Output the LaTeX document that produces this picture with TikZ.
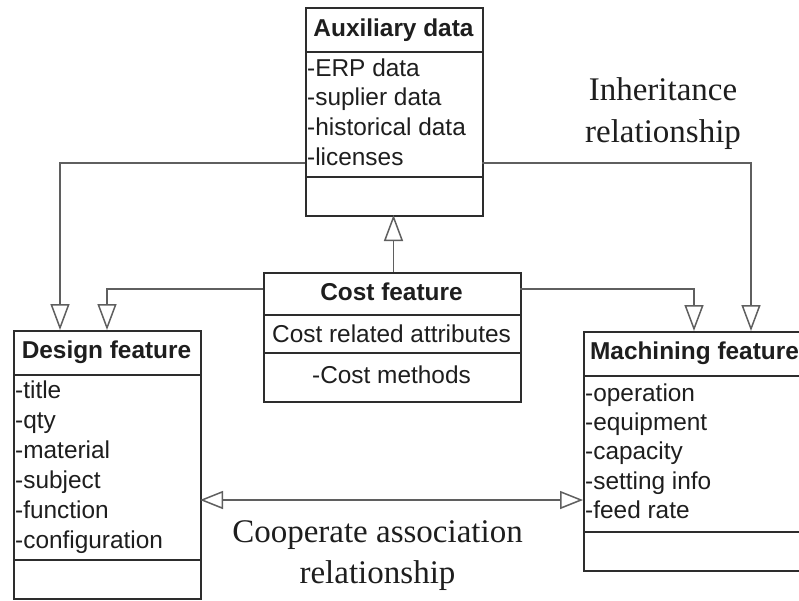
\documentclass[tikz,border=0pt]{standalone}
\usepackage{fontspec}
\setmainfont{Liberation Sans}
\newfontfamily\serifrm{Liberation Serif}
\usetikzlibrary{arrows.meta}
\definecolor{boxc}{RGB}{45,45,45}
\definecolor{linec}{RGB}{95,95,95}
\definecolor{txtc}{RGB}{30,30,30}
\begin{document}
\begin{tikzpicture}[x=1pt,y=-1pt,
  box/.style={draw=boxc, line width=1.5pt, fill=white, inner sep=0pt, anchor=north west},
  divider/.style={draw=boxc, line width=1.5pt},
  hdr/.style={inner sep=0pt, anchor=base, text=txtc, font=\fontsize{24.4}{29}\selectfont\bfseries},
  attr/.style={inner sep=0pt, anchor=base west, text=txtc, font=\fontsize{24.4}{29}\selectfont},
  attrc/.style={inner sep=0pt, anchor=base, text=txtc, font=\fontsize{24.4}{29}\selectfont},
  lbl/.style={inner sep=0pt, anchor=base, text=txtc, font=\serifrm\fontsize{33}{41}\selectfont},
  inh/.style={draw=linec, line width=1.5pt, -{Triangle[open, length=26pt, width=19pt]}},
  assoc/.style={draw=linec, line width=1.5pt, {Triangle[open, length=23pt, width=18pt]}-{Triangle[open, length=23pt, width=18pt]}}
]
\useasboundingbox (0,0) rectangle (799,600);
\clip (0,0) rectangle (799,600);
\fill[white] (0,0) rectangle (799,600);

% Auxiliary data
\node[box, minimum width=177pt, minimum height=208pt] (aux) at (305,7) {};
\draw[divider] (305,52) -- (482,52);
\draw[divider] (305,177) -- (482,177);
\node[hdr] (auxh) at (393.5,36) {Auxiliary data};
\node[attr] (aux1) at (307,76) {-ERP data};
\node[attr] (aux2) at (307,105) {-suplier data};
\node[attr] (aux3) at (307,135) {-historical data};
\node[attr] (aux4) at (307,165) {-licenses};

% Design feature
\node[box, minimum width=187pt, minimum height=268pt] (design) at (13,330) {};
\draw[divider] (13,375) -- (200,375);
\draw[divider] (13,560) -- (200,560);
\node[hdr] (desh) at (106.5,358) {Design feature};
\node[attr] (des1) at (15,398) {-title};
\node[attr] (des2) at (15,428) {-qty};
\node[attr] (des3) at (15,458) {-material};
\node[attr] (des4) at (15,488) {-subject};
\node[attr] (des5) at (15,518) {-function};
\node[attr] (des6) at (15,548) {-configuration};

% Machining feature
\node[box, minimum width=223pt, minimum height=239pt] (mach) at (583,331) {};
\draw[divider] (583,376) -- (806,376);
\draw[divider] (583,532) -- (806,532);
\node[hdr] (machh) at (694.5,359) {Machining feature};
\node[attr] (mac1) at (585,401) {-operation};
\node[attr] (mac2) at (585,430) {-equipment};
\node[attr] (mac3) at (585,459) {-capacity};
\node[attr] (mac4) at (585,489) {-setting info};
\node[attr] (mac5) at (585,518) {-feed rate};

% Cost feature
\node[box, minimum width=257pt, minimum height=129pt] (cost) at (263,272) {};
\draw[divider] (263,315) -- (520,315);
\draw[divider] (263,353) -- (520,353);
\node[hdr] (costh) at (391.5,300) {Cost feature};
\node[attrc] (cost1) at (391.5,342) {Cost related attributes};
\node[attrc] (cost2) at (391.5,383) {-Cost methods};

% connector end points
\coordinate (auxL) at (305,163);
\coordinate (auxR) at (482,163);
\coordinate (auxB) at (393.5,215);
\coordinate (costT) at (393.5,272);
\coordinate (costL) at (263,289);
\coordinate (costR) at (520,289);
\coordinate (d1) at (60,330);
\coordinate (d2) at (107,330);
\coordinate (m1) at (694,331);
\coordinate (m2) at (751,331);
\coordinate (dE) at (200,500);
\coordinate (mW) at (583,500);

\draw[inh] (auxL) -| (d1);
\draw[inh] (auxR) -| (m2);
\draw[inh] (costL) -| (d2);
\draw[inh] (costR) -| (m1);
\draw[inh] (costT) -- (auxB);
\draw[assoc] (dE) -- (mW);

% labels
\node[lbl] (inh1) at (663,100) {Inheritance};
\node[lbl] (inh2) at (663,142) {relationship};
\node[lbl] (coop1) at (377.5,542) {Cooperate association};
\node[lbl] (coop2) at (377.5,583) {relationship};
\end{tikzpicture}
\end{document}
